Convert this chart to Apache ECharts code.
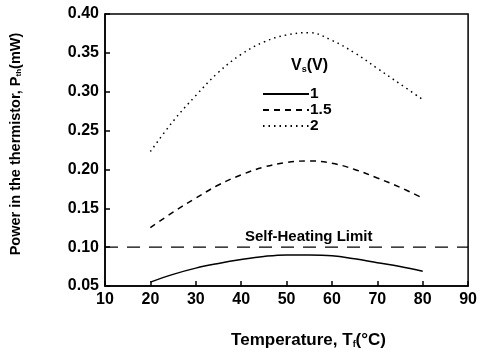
<!DOCTYPE html>
<html><head><meta charset="utf-8">
<script src="https://cdn.jsdelivr.net/npm/echarts@6/dist/echarts.min.js"></script>
<style>html,body{margin:0;padding:0;background:#fff}#c{width:480px;height:354px}</style>
</head><body><div id="c"></div>
<script>
const temps = [20, 25, 30, 35, 40, 45, 50, 55, 60, 65, 70, 75, 80];
const p1 = [0.055, 0.065, 0.073, 0.079, 0.084, 0.088, 0.090, 0.090, 0.089, 0.085, 0.080, 0.075, 0.069];
const p15 = [0.125, 0.145, 0.163, 0.180, 0.193, 0.203, 0.209, 0.211, 0.208, 0.200, 0.189, 0.177, 0.163];
const p2 = [0.223, 0.262, 0.295, 0.325, 0.348, 0.364, 0.373, 0.376, 0.366, 0.350, 0.330, 0.310, 0.290];
const limitX = [10, 90];
const limitY = [0.10, 0.10];
const seriesNames = ['1', '1.5', '2'];
const xTicks = [10, 20, 30, 40, 50, 60, 70, 80, 90];
const yTicks = [0.05, 0.10, 0.15, 0.20, 0.25, 0.30, 0.35, 0.40];

const FONT = '"Liberation Sans", Arial, sans-serif';
const pairs = (xs, ys) => xs.map((x, i) => [x, ys[i]]);
const chart = echarts.init(document.getElementById('c'), null, {renderer: 'canvas'});
chart.setOption({
  animation: false,
  backgroundColor: '#fff',
  textStyle: {fontFamily: FONT, color: '#000'},
  grid: {left: 105, right: 2, top: 14, bottom: 65, show: true, borderColor: '#000', borderWidth: 1.5},
  legend: {
    data: seriesNames, orient: 'vertical', left: 262, top: 86, padding: 0,
    itemWidth: 46, itemHeight: 10, itemGap: 0,
    itemStyle: {opacity: 0, borderWidth: 0},
    textStyle: {fontFamily: FONT, fontSize: 15.5, fontWeight: 'bold', color: '#000', lineHeight: 15.5, padding: [0,0,0,-4]}
  },
  graphic: [{
    type: 'text', left: 291, top: 58,
    style: {
      text: 'V{sub|s}(V)', fontFamily: FONT, fontSize: 16, fontWeight: 'bold', fill: '#000',
      rich: {sub: {fontSize: 9, fontWeight: 'bold', fontFamily: FONT, padding: [8, 0, 0, 0]}}
    }
  }, {
    type: 'text', left: 245, top: 229,
    style: {text: 'Self-Heating Limit', fontFamily: FONT, fontSize: 15, fontWeight: 'bold', fill: '#000'}
  }],
  xAxis: {
    type: 'value', min: 10, max: 90, interval: 10,
    name: 'Temperature, T{sub|f}(°C)', nameLocation: 'middle', nameGap: 46,
    nameTextStyle: {fontFamily: FONT, fontSize: 17, fontWeight: 'bold', color: '#000', padding: [0,0,0,44],
      rich: {sub: {fontSize: 9, fontWeight: 'bold', fontFamily: FONT, padding: [8,0,0,0]}}},
    axisLine: {lineStyle: {color: '#000', width: 1.5}},
    axisTick: {inside: true, length: 5, lineStyle: {color: '#000', width: 1.5}},
    axisLabel: {fontFamily: FONT, fontSize: 16, fontWeight: 'bold', color: '#000', margin: 6,
      formatter: v => xTicks.includes(v) ? String(v) : ''},
    splitLine: {show: false}
  },
  yAxis: {
    type: 'value', min: 0.05, max: 0.40, interval: 0.05,
    name: 'Power in the thermistor, P{sub|th}(mW)', nameLocation: 'middle', nameGap: 82,
    nameTextStyle: {fontFamily: FONT, fontSize: 14.5, fontWeight: 'bold', color: '#000', padding: [0,0,0,12],
      rich: {sub: {fontSize: 8, fontWeight: 'bold', fontFamily: FONT, padding: [7,0,0,0]}}},
    axisLine: {lineStyle: {color: '#000', width: 1.5}},
    axisTick: {inside: true, length: 5, lineStyle: {color: '#000', width: 1.5}},
    axisLabel: {fontFamily: FONT, fontSize: 16, fontWeight: 'bold', color: '#000', margin: 6,
      formatter: v => {
        const t = yTicks.find(y => Math.abs(y - v) < 1e-6);
        return t !== undefined ? t.toFixed(2) : '';
      }},
    splitLine: {show: false}
  },
  series: [
    {name: '1', type: 'line', data: pairs(temps, p1), smooth: 0.4, symbol: 'none', showSymbol: false,
     lineStyle: {color: '#000', width: 1.5, type: 'solid'}, itemStyle: {color: '#000'}},
    {name: '1.5', type: 'line', data: pairs(temps, p15), smooth: 0.4, symbol: 'none', showSymbol: false,
     lineStyle: {color: '#000', width: 1.5, type: [6, 5]}, itemStyle: {color: '#000'}},
    {name: '2', type: 'line', data: pairs(temps, p2), smooth: 0.4, symbol: 'none', showSymbol: false,
     lineStyle: {color: '#000', width: 1.5, type: [1.5, 4]}, itemStyle: {color: '#000'}},
    {name: 'limit', type: 'line', data: pairs(limitX, limitY), symbol: 'none', showSymbol: false,
     lineStyle: {color: '#000', width: 1.2, type: [13, 9]}, itemStyle: {color: '#000'}}
  ]
});
</script></body></html>
